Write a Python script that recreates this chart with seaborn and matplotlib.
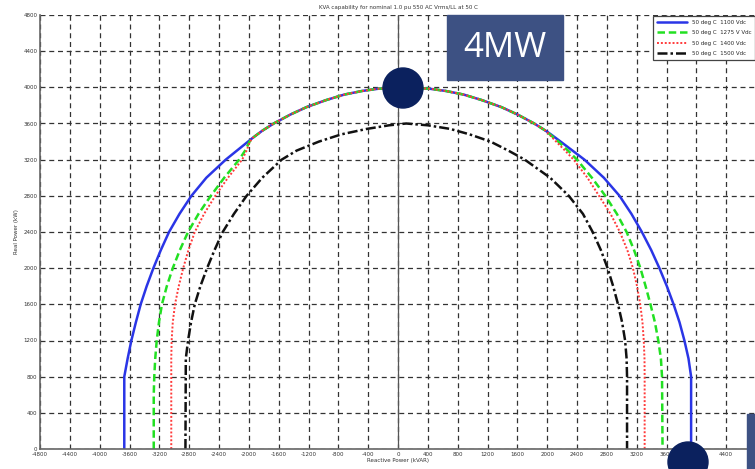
"""
plot.py

KVA capability curves (real vs reactive power) for four DC link voltages,
with the slide annotations (4MW tag and markers) drawn on top.
"""

import matplotlib
matplotlib.use("Agg")
import matplotlib.pyplot as plt
import matplotlib.patches as mpatches
import seaborn as sns
import pandas as pd

# ==========================================
# DATA
# ==========================================
TITLE = "KVA capability for nominal 1.0 pu 550 AC Vrms/LL at 50 C"
XLABEL = "Reactive Power (kVAR)"
YLABEL = "Real Power (kW)"

LABELS = ["50 deg C  1100 Vdc", "50 deg C  1275 V Vdc",
          "50 deg C  1400 Vdc", "50 deg C  1500 Vdc"]

# shared top arc (kVA limit) of the first three curves
ARC_Q = [-1950, -1820, -1660, -1440, -1230, -960, -720, -480, -260, 80,
         420, 640, 880, 1120, 1390, 1600, 1820, 1980]
ARC_P = [3440, 3520, 3603, 3700, 3780, 3860, 3920, 3960, 3985, 4000,
         3985, 3960, 3920, 3860, 3780, 3700, 3603, 3520]

# lower flanks, bottom -> top on the left, top -> bottom on the right
BLUE_LEFT_Q = [-3670, -3670, -3625, -3575, -3515, -3450, -3370, -3280, -3180,
               -3070, -2930, -2770, -2570, -2310, -2160, -2010]
BLUE_LEFT_P = [0, 800, 1000, 1200, 1400, 1600, 1800, 2000, 2200,
               2400, 2600, 2800, 3000, 3200, 3300, 3400]
BLUE_RIGHT_Q = [2050, 2180, 2340, 2500, 2760, 2970, 3130, 3270, 3395, 3505,
                3605, 3695, 3775, 3840, 3895, 3930, 3930]
BLUE_RIGHT_P = [3480, 3400, 3300, 3200, 3000, 2800, 2600, 2400, 2200, 2000,
                1800, 1600, 1400, 1200, 1000, 800, 0]

GREEN_LEFT_Q = [-3275, -3275, -3268, -3255, -3235, -3205, -3165, -3100, -3020,
                -2925, -2815, -2675, -2510, -2330, -2130, -2050, -1990]
GREEN_LEFT_P = [0, 600, 800, 1000, 1200, 1400, 1600, 1800, 2000,
                2200, 2400, 2600, 2800, 3000, 3200, 3300, 3400]
GREEN_RIGHT_Q = [2150, 2280, 2400, 2600, 2780, 2935, 3065, 3165, 3250, 3320,
                 3385, 3445, 3490, 3525, 3540, 3547]
GREEN_RIGHT_P = [3400, 3300, 3200, 3000, 2800, 2600, 2400, 2200, 2000, 1800,
                 1600, 1400, 1200, 1000, 800, 0]

RED_LEFT_Q = [-3040, -3040, -3035, -3020, -2990, -2940, -2880, -2810, -2725,
              -2600, -2450, -2280, -2090, -2030, -1985]
RED_LEFT_P = [0, 1000, 1200, 1400, 1600, 1800, 2000, 2200, 2400,
              2600, 2800, 3000, 3200, 3300, 3400]
RED_RIGHT_Q = [2120, 2240, 2355, 2540, 2695, 2850, 2975, 3075, 3150, 3205,
               3248, 3278, 3295, 3305, 3307, 3307]
RED_RIGHT_P = [3400, 3300, 3200, 3000, 2800, 2600, 2400, 2200, 2000, 1800,
               1600, 1400, 1200, 1000, 800, 0]

BLACK_Q = [-2850, -2845, -2815, -2775, -2725, -2650, -2560, -2460, -2350, -2200,
           -2030, -1820, -1560, -1360, -1060, -760, -420, -120, 110, 400, 700,
           960, 1240, 1480, 1700, 2040, 2290, 2480, 2610, 2720, 2810, 2885, 2950,
           3005, 3045, 3065, 3071, 3071]
BLACK_P = [0, 1000, 1200, 1400, 1600, 1800, 2000, 2200, 2400, 2600,
           2800, 3000, 3200, 3300, 3400, 3480, 3540, 3580, 3600, 3580, 3540,
           3480, 3400, 3300, 3200, 3000, 2800, 2600, 2400, 2200, 2000, 1800, 1600,
           1400, 1200, 1000, 800, 0]

X_TICKS = list(range(-4800, 4801, 400))
Y_TICKS = list(range(0, 4801, 400))

STYLES = [
    dict(color="#2a35e6", linestyle="-", linewidth=1.8),
    dict(color="#22e022", linestyle=(0, (3, 1.5)), linewidth=1.8),
    dict(color="#ff3a3a", linestyle=(0, (1, 1)), linewidth=1.4),
    dict(color="#111111", linestyle=(0, (4, 1.2, 1, 1.2)), linewidth=1.8),
]


def main():
    sns.set_theme(style="white")
    plt.rcParams["font.family"] = ["DejaVu Sans"]

    fig = plt.figure(figsize=(7.55, 4.69), dpi=100)
    W, H = 755, 469
    ax = fig.add_axes([40 / W, 20 / H, 716 / W, 434 / H])

    curves = [
        (BLUE_LEFT_Q + ARC_Q + BLUE_RIGHT_Q, BLUE_LEFT_P + ARC_P + BLUE_RIGHT_P),
        (GREEN_LEFT_Q + ARC_Q + GREEN_RIGHT_Q, GREEN_LEFT_P + ARC_P + GREEN_RIGHT_P),
        (RED_LEFT_Q + ARC_Q + RED_RIGHT_Q, RED_LEFT_P + ARC_P + RED_RIGHT_P),
        (BLACK_Q, BLACK_P),
    ]
    for (q, p), lab, st in zip(curves, LABELS, STYLES):
        df = pd.DataFrame({"Q": q, "P": p})
        sns.lineplot(data=df, x="Q", y="P", sort=False, estimator=None,
                     ax=ax, label=lab, **st)

    # vertical zero line
    ax.axvline(0, color="#555555", linewidth=0.9, zorder=1)

    ax.set_xlim(-4800, 4800)
    ax.set_ylim(0, 4800)
    ax.set_xticks(X_TICKS)
    # last label sits under the slide tag at the right edge
    ax.set_xticklabels([str(t) if t < 4800 else "" for t in X_TICKS])
    ax.set_yticks(Y_TICKS)
    ax.tick_params(labelsize=4, length=2, direction="in", pad=2, colors="#333333")
    ax.grid(True, color="#333333", linestyle=(0, (4, 3)), linewidth=0.9)
    for s in ["top", "right"]:
        ax.spines[s].set_visible(False)
    for s in ["left", "bottom"]:
        ax.spines[s].set_color("#666666")
        ax.spines[s].set_linewidth(1.2)

    ax.set_title(TITLE, fontsize=4, pad=4, color="#333333")
    ax.set_xlabel(XLABEL, fontsize=4, labelpad=1, color="#333333")
    ax.set_ylabel(YLABEL, fontsize=4, labelpad=3, color="#333333")

    leg = ax.legend(loc="upper right", fontsize=4, frameon=True, fancybox=False,
                    edgecolor="#444444", handlelength=5.5, borderaxespad=0.25,
                    labelspacing=1.0, borderpad=0.6, framealpha=1)
    leg.get_frame().set_linewidth(0.9)

    # slide annotations on top of the chart
    def fx(px):
        return px / W

    def fy(py):
        return 1 - py / H

    fig.patches.append(mpatches.Rectangle((fx(447), fy(80)), 116 / W, 65 / H,
                                          transform=fig.transFigure,
                                          color="#3d5183", zorder=10))
    fig.text(fx(505), fy(48), "4MW", color="white", fontsize=25,
             family=["Open Sans", "DejaVu Sans"], ha="center", va="center", zorder=11)
    for cx, cy in [(403, 88), (688, 462)]:
        fig.patches.append(mpatches.Ellipse((fx(cx), fy(cy)), 40 / W, 40 / H,
                                            transform=fig.transFigure,
                                            color="#0b215e", zorder=12))
    fig.patches.append(mpatches.Rectangle((fx(747), fy(469)), 10 / W, 55 / H,
                                          transform=fig.transFigure,
                                          color="#3d5183", zorder=10))

    fig.savefig("out.png", dpi=100)


if __name__ == "__main__":
    main()
